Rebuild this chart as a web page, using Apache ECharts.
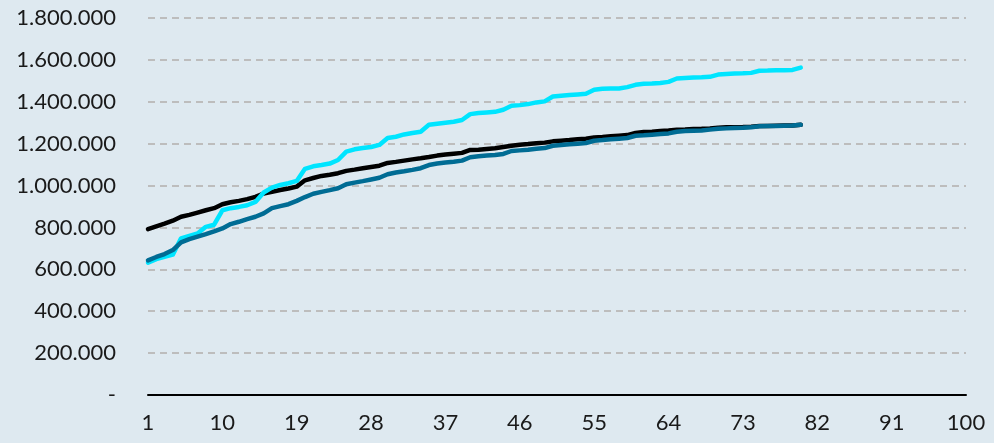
<!DOCTYPE html>
<html>
<head>
<meta charset="utf-8">
<script src="https://cdn.jsdelivr.net/npm/echarts@6/dist/echarts.min.js"></script>
<style>
html,body{margin:0;padding:0;background:#dee9f0;}
#c{width:994px;height:443px;}
</style>
</head>
<body>
<div id="c"></div>
<script>
const categories = Array.from({length: 100}, (_, i) => String(i + 1));

const blackSeries = [
  792, 805, 818, 832, 851, 860, 871, 882, 892, 911,
  920, 927, 935, 946, 962, 970, 979, 986, 995, 1025,
  1036, 1046, 1052, 1059, 1070, 1076, 1083, 1089, 1095, 1108,
  1113, 1119, 1125, 1130, 1136, 1143, 1148, 1152, 1156, 1170,
  1171, 1175, 1178, 1184, 1190, 1195, 1198, 1202, 1205, 1211,
  1214, 1217, 1221, 1224, 1230, 1232, 1235, 1238, 1241, 1251,
  1256, 1257, 1260, 1263, 1267, 1268, 1270, 1271, 1273, 1276,
  1278, 1278, 1279, 1281, 1284, 1284, 1286, 1287, 1287, 1290
];

const cyanSeries = [
  632, 649, 660, 670, 748, 760, 771, 803, 813, 882,
  892, 898, 906, 922, 967, 990, 1003, 1011, 1022, 1080,
  1092, 1098, 1105, 1122, 1162, 1173, 1179, 1184, 1194, 1227,
  1233, 1244, 1251, 1257, 1290, 1295, 1300, 1305, 1313, 1341,
  1346, 1349, 1352, 1362, 1381, 1384, 1389, 1397, 1402, 1425,
  1429, 1432, 1435, 1438, 1457, 1462, 1463, 1463, 1470, 1481,
  1486, 1487, 1490, 1495, 1511, 1514, 1516, 1517, 1519, 1530,
  1533, 1535, 1536, 1538, 1548, 1549, 1551, 1551, 1552, 1563
];

const tealSeries = [
  643, 659, 673, 692, 729, 744, 756, 768, 781, 795,
  816, 827, 840, 851, 867, 892, 902, 911, 927, 945,
  961, 970, 978, 987, 1006, 1014, 1021, 1029, 1037, 1054,
  1062, 1068, 1075, 1083, 1098, 1105, 1110, 1114, 1119, 1135,
  1140, 1143, 1146, 1151, 1165, 1168, 1171, 1176, 1179, 1190,
  1194, 1197, 1200, 1203, 1214, 1217, 1221, 1224, 1227, 1238,
  1240, 1243, 1246, 1249, 1257, 1260, 1262, 1263, 1267, 1271,
  1273, 1275, 1276, 1278, 1283, 1284, 1284, 1286, 1287, 1290
];

const yMin = 0, yMax = 1800000, yStep = 200000;

function fmt(v) {
  if (v === 0) return '-';
  return String(Math.round(v)).replace(/\B(?=(\d{3})+(?!\d))/g, '.');
}

const chart = echarts.init(document.getElementById('c'), null, {renderer: 'canvas'});
const FONT = 'Lato, "DejaVu Sans", sans-serif';

function mk(name, arr, color) {
  return {
    name: name,
    type: 'line',
    data: arr.map(v => v * 1000),
    symbol: 'none',
    smooth: false,
    lineStyle: {color: color, width: 4.5, cap: 'round', join: 'round'},
    itemStyle: {color: color},
    animation: false
  };
}

chart.setOption({
  backgroundColor: '#dee9f0',
  animation: false,
  grid: {left: 148, right: 28, top: 18, bottom: 48, containLabel: false},
  xAxis: {
    type: 'category',
    data: categories,
    boundaryGap: false,
    axisLine: {show: true, lineStyle: {color: '#000', width: 2}},
    axisTick: {show: false},
    axisLabel: {
      interval: 8,
      color: '#1a1a1a',
      fontFamily: FONT,
      fontSize: 22,
      margin: 17
    },
    splitLine: {show: false}
  },
  yAxis: {
    type: 'value',
    min: yMin,
    max: yMax,
    interval: yStep,
    axisLine: {show: false},
    axisTick: {show: false},
    axisLabel: {
      formatter: fmt,
      color: '#1a1a1a',
      fontFamily: FONT,
      fontSize: 22,
      margin: 32
    },
    splitLine: {
      show: true,
      lineStyle: {color: '#bdbdbd', width: 2, type: [7, 5]}
    }
  },
  series: [
    mk('Black', blackSeries, '#000000'),
    mk('Cyan', cyanSeries, '#00e5ff'),
    mk('Teal', tealSeries, '#006c94')
  ]
});
</script>
</body>
</html>
